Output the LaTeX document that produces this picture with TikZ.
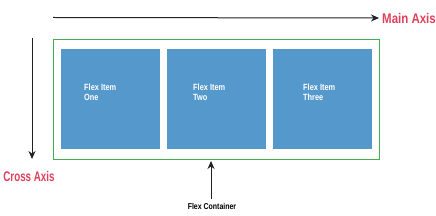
\documentclass[tikz,border=0pt]{standalone}
\usepackage{fontspec}
\setmainfont{Liberation Sans}
\newfontfamily\cond[FakeStretch=0.82]{Liberation Sans Bold}
\newfontfamily\condnarrow[FakeStretch=0.7]{Liberation Sans Bold}
\usetikzlibrary{arrows.meta}
\definecolor{itemblue}{HTML}{5599CC}
\definecolor{boxgreen}{HTML}{3DB050}
\definecolor{axisred}{HTML}{E0405A}
\definecolor{axisgray}{HTML}{222222}
\tikzset{
  item/.style={fill=itemblue, draw=none, minimum width=99pt, minimum height=100pt, inner sep=0pt},
  itemlabel/.style={text=white, font=\cond\fontsize{9}{10}\selectfont, align=left, anchor=north west, inner sep=0pt},
  axislabel/.style={text=axisred, inner sep=0pt},
  axisarrow/.style={draw=axisgray, line width=1pt, -{Stealth[length=8pt,width=7pt]}},
}
\begin{document}
\begin{tikzpicture}[x=1pt,y=-1pt]
\useasboundingbox (0,0) rectangle (436,216);
% container
\node[draw=boxgreen, line width=1.2pt, minimum width=326pt, minimum height=120pt, inner sep=0pt, anchor=north west] (cont) at (53,39) {};
% items
\node[item, anchor=north west] (i1) at (61,49) {};
\node[item, anchor=north west] (i2) at (167,49) {};
\node[item, anchor=north west] (i3) at (273,49) {};
\node[itemlabel] (t1) at (84,84) {Flex Item\\One};
\node[itemlabel] (t2) at (193,84) {Flex Item\\Two};
\node[itemlabel] (t3) at (303,84) {Flex Item\\Three};
% main axis
\coordinate (ms) at (53,17.5);
\node[axislabel, font=\cond\fontsize{14}{15}\selectfont, anchor=west] (main) at (382,18) {Main Axis};
\draw[axisarrow] (ms) -- ([xshift=-3pt]main.west);
% cross axis
\coordinate (cs) at (32,38);
\node[axislabel, font=\condnarrow\fontsize{14}{15}\selectfont] (cross) at (29,176) {Cross Axis};
\coordinate (ce) at (32,159);
\draw[axisarrow] (cs) -- (ce);
% flex container label
\node[font=\cond\fontsize{8.5}{9.5}\selectfont, inner sep=0pt] (fc) at (212,206) {Flex Container};
\coordinate (fs) at (211,199);
\coordinate (fe) at (211,161);
\draw[axisarrow] (fs) -- (fe);
\end{tikzpicture}
\end{document}
